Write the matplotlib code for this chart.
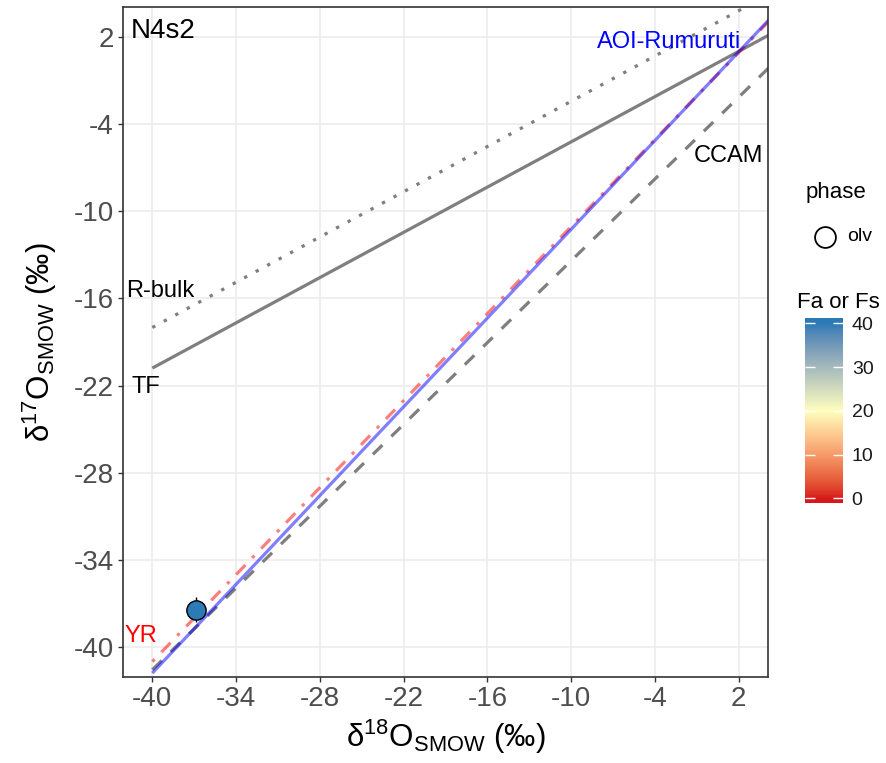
import numpy as np
import matplotlib
matplotlib.use("Agg")
import matplotlib.pyplot as plt
from matplotlib.colors import ListedColormap, Normalize
from matplotlib.lines import Line2D

plt.rcParams["font.family"] = ["Liberation Sans", "DejaVu Sans"]
plt.rcParams["mathtext.fontset"] = "custom"
plt.rcParams["mathtext.rm"] = "Liberation Sans"
plt.rcParams["mathtext.it"] = "Liberation Sans:italic"
plt.rcParams["mathtext.bf"] = "Liberation Sans:bold"
plt.rcParams["lines.scale_dashes"] = False
plt.rcParams["axes.unicode_minus"] = False

# ---- data -------------------------------------------------------------
sample_label = "N4s2"
phase = ["olv"]
d18O = [-36.9]
d17O = [-37.45]
d18O_err = [0.4]
d17O_err = [0.85]
fa = [40.0]

# reference lines (slope, intercept) drawn from x = -40 onward
line_names = ["TF", "R-bulk", "CCAM", "YR", "AOI-Rumuruti"]
line_slopes = [0.52, 0.52, 0.94, 1.00, 1.02]
line_intercepts = [0.0, 2.8, -4.0, -1.04, -1.03]
line_x_range = [-40, 6]

x_ticks = [-40, -34, -28, -22, -16, -10, -4, 2]
y_ticks = [-40, -34, -28, -22, -16, -10, -4, 2]
cbar_ticks = [0, 10, 20, 30, 40]

# ---- colour ramp (CIELAB interpolation: red -> pale yellow -> blue) ----
_M = np.array([[0.4124564, 0.3575761, 0.1804375],
               [0.2126729, 0.7151522, 0.0721750],
               [0.0193339, 0.1191920, 0.9503041]])
_WHITE = np.array([0.95047, 1.0, 1.08883])


def srgb_to_lab(rgb):
    rgb = np.asarray(rgb, float)
    lin = np.where(rgb <= 0.04045, rgb / 12.92, ((rgb + 0.055) / 1.055) ** 2.4)
    t = (lin @ _M.T) / _WHITE
    d = 6 / 29
    f = np.where(t > d ** 3, np.cbrt(t), t / (3 * d * d) + 4 / 29)
    return np.stack([116 * f[..., 1] - 16,
                     500 * (f[..., 0] - f[..., 1]),
                     200 * (f[..., 1] - f[..., 2])], -1)


def lab_to_srgb(lab):
    fy = (lab[..., 0] + 16) / 116
    fx = fy + lab[..., 1] / 500
    fz = fy - lab[..., 2] / 200
    f = np.stack([fx, fy, fz], -1)
    d = 6 / 29
    t = np.where(f > d, f ** 3, 3 * d * d * (f - 4 / 29))
    lin = np.clip((t * _WHITE) @ np.linalg.inv(_M).T, 0, 1)
    rgb = np.where(lin <= 0.0031308, 12.92 * lin, 1.055 * lin ** (1 / 2.4) - 0.055)
    return np.clip(rgb, 0, 1)


def hex_rgb(h):
    h = h.lstrip("#")
    return [int(h[i:i + 2], 16) / 255 for i in (0, 2, 4)]


stop_cols = ["#D7191C", "#FFFFBF", "#2C7BB6"]
stop_pos = [0.0, 0.5, 1.0]
labs = srgb_to_lab(np.array([hex_rgb(c) for c in stop_cols]))
pos = np.linspace(0, 1, 256)
lab_ramp = np.stack([np.interp(pos, stop_pos, labs[:, k]) for k in range(3)], -1)
cmap = ListedColormap(lab_to_srgb(lab_ramp))
norm = Normalize(vmin=0, vmax=40)

# ---- figure -------------------------------------------------------------
W, H = 886, 763
fig = plt.figure(figsize=(W / 100, H / 100), dpi=100)
ax = fig.add_axes([123 / W, 1 - 677 / H, 645 / W, 670 / H])

ax.set_xlim(-42.1, 4.1)
ax.set_ylim(-42.1, 4.1)
ax.set_xticks(x_ticks)
ax.set_yticks(y_ticks)
ax.set_axisbelow(True)
ax.grid(True, color="#EBEBEB", lw=1.1)
for sp in ax.spines.values():
    sp.set_color("#333333")
    sp.set_linewidth(1.2)
ax.tick_params(length=3.5, width=1, color="#333333", labelsize=20,
               labelcolor="#4D4D4D", pad=3)

styles = {
    "TF": dict(color="#7F7F7F", ls="-"),
    "R-bulk": dict(color="#7F7F7F", ls=(0, (2.4, 7.0))),
    "CCAM": dict(color="#7F7F7F", ls=(0, (9.5, 9.0))),
    "YR": dict(color="red", alpha=0.5, ls=(0, (2.4, 7.0, 9.5, 7.0))),
    "AOI-Rumuruti": dict(color="blue", alpha=0.5, ls="-"),
}
xs = np.array(line_x_range, float)
for name, m, b in zip(line_names, line_slopes, line_intercepts):
    ax.plot(xs, m * xs + b, lw=2.3, solid_capstyle="butt",
            dash_capstyle="butt", **styles[name])

# sample point with error bars
ax.errorbar(d18O, d17O, xerr=d18O_err, yerr=d17O_err, fmt="none",
            ecolor="black", elinewidth=1, capsize=0, zorder=4)
ax.scatter(d18O, d17O, c=fa, cmap=cmap, norm=norm, s=13.9 ** 2,
           edgecolors="black", linewidths=1, zorder=5)

# line labels
txt = dict(fontsize=17, va="baseline", ha="center")
ax.text(-41.55, 1.93, sample_label, color="black", fontsize=20,
        va="baseline", ha="left")
ax.text(-3.0, 1.24, "AOI-Rumuruti", color="blue", **txt)
ax.text(1.3, -6.62, "CCAM", color="black", **txt)
ax.text(-39.45, -15.88, "R-bulk", color="black", **txt)
ax.text(-40.45, -22.55, "TF", color="black", **txt)
ax.text(-40.8, -39.72, "YR", color="red", **txt)

# axis titles
fig.text(446 / W, 1 - 746.7 / H, r"δ$^{\mathrm{18}}$O$_{\mathrm{SMOW}}$ (‰)",
         ha="center", va="baseline", fontsize=22.5)
fig.text(50 / W, 1 - 342 / H, r"δ$^{\mathrm{17}}$O$_{\mathrm{SMOW}}$ (‰)",
         ha="center", va="baseline", rotation=90, rotation_mode="anchor",
         fontsize=22.5)

# shape legend
fig.text(806 / W, 1 - 198 / H, "phase", fontsize=16, va="baseline", ha="left")
fig.add_artist(Line2D([825 / W], [1 - 236.7 / H], marker="o", ms=15,
                      mfc="white", mec="black", mew=1.3, ls="none",
                      transform=fig.transFigure))
fig.text(846.7 / W, 1 - 241 / H, phase[0], fontsize=14, va="baseline", ha="left")

# colour bar
fig.text(797.3 / W, 1 - 308.3 / H, "Fa or Fs", fontsize=16, va="baseline", ha="left")
cax = fig.add_axes([805 / W, 1 - 502.7 / H, 38 / W, 184.7 / H])
lo, hi = -1.0, 41.2
grad = np.linspace(lo, hi, 400).reshape(-1, 1)
cax.imshow(grad, cmap=cmap, norm=norm, aspect="auto", origin="lower",
           extent=[0, 1, lo, hi])
cax.set_xlim(0, 1)
cax.set_ylim(lo, hi)
cax.set_xticks([])
cax.set_yticks(cbar_ticks)
cax.tick_params(axis="y", direction="in", length=7, width=1, color="white",
                left=True, right=True, labelleft=False, labelright=True,
                labelsize=14, labelcolor="#1A1A1A", pad=6.3)
for sp in cax.spines.values():
    sp.set_visible(False)

fig.savefig("out.png", dpi=100)
